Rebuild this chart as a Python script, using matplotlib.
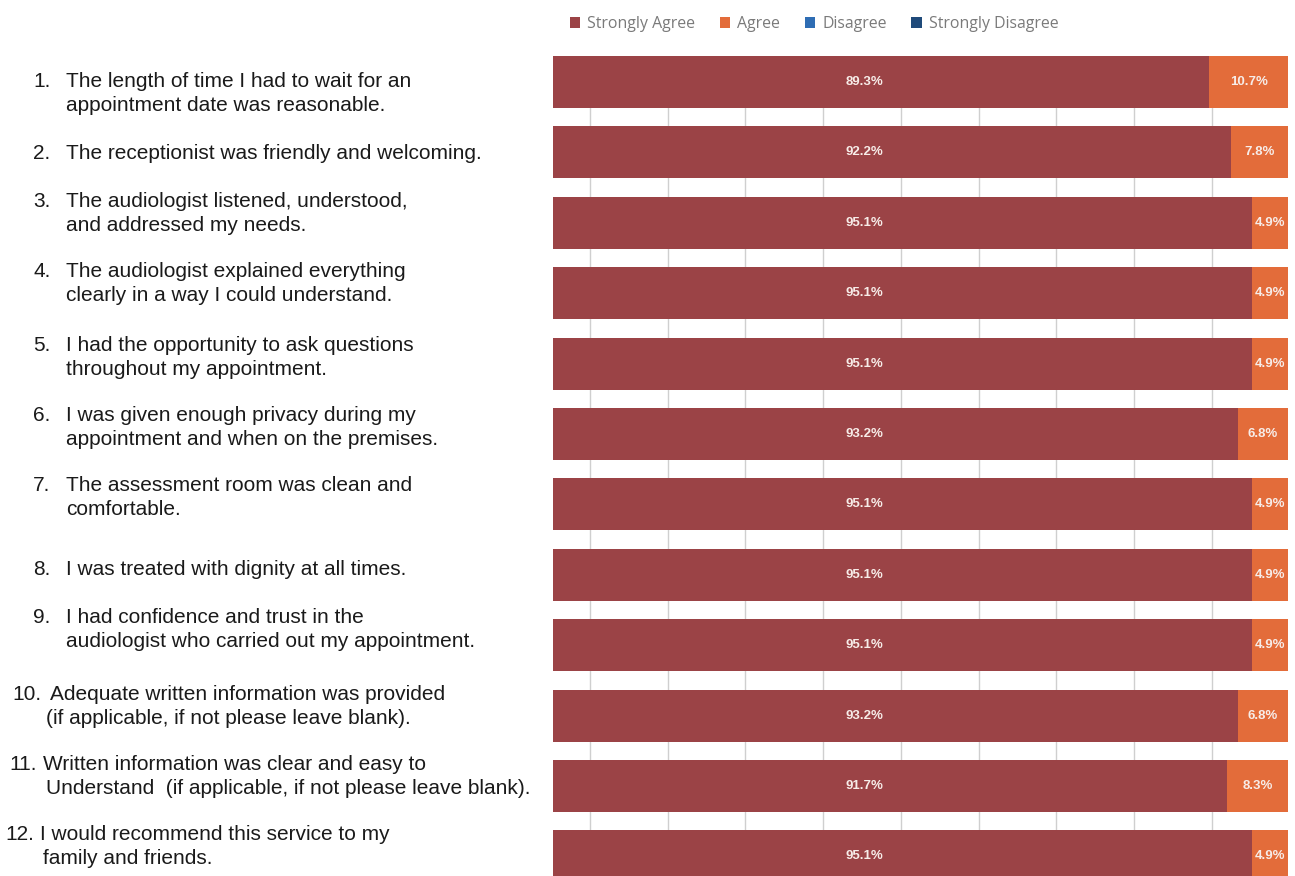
import matplotlib
matplotlib.use("Agg")
import matplotlib.pyplot as plt
import numpy as np
from matplotlib.patches import Patch
from matplotlib.transforms import blended_transform_factory, offset_copy

# survey statements (left column)
questions = [
    "The length of time I had to wait for an\nappointment date was reasonable.",
    "The receptionist was friendly and welcoming.",
    "The audiologist listened, understood,\nand addressed my needs.",
    "The audiologist explained everything\nclearly in a way I could understand.",
    "I had the opportunity to ask questions\nthroughout my appointment.",
    "I was given enough privacy during my\nappointment and when on the premises.",
    "The assessment room was clean and\ncomfortable.",
    "I was treated with dignity at all times.",
    "I had confidence and trust in the\naudiologist who carried out my appointment.",
    "Adequate written information was provided\n(if applicable, if not please leave blank).",
    "Written information was clear and easy to\nUnderstand  (if applicable, if not please leave blank).",
    "I would recommend this service to my\nfamily and friends.",
]

series_names = ["Strongly Agree", "Agree", "Disagree", "Strongly Disagree"]
strongly_agree = [89.3, 92.2, 95.1, 95.1, 95.1, 93.2, 95.1, 95.1, 95.1, 93.2, 91.7, 95.1]
agree = [10.7, 7.8, 4.9, 4.9, 4.9, 6.8, 4.9, 4.9, 4.9, 6.8, 8.3, 4.9]
disagree = [0] * 12
strongly_disagree = [0] * 12

colors = ["#9b4346", "#e36c3a", "#2e6db4", "#1f4a7a"]

# layout of the left text column (pixels)
num_x = [33] * 9 + [12, 9, 5]
text_x = [66] * 9 + [50, 43, 40]
cont_x = [66] * 9 + [46, 46, 43]
first_dy = [5, 7, -16, -16, -13, -13, -13, 0, -22, -16, -16, -16]
line_gap = 24

W, H = 1295, 876
fig = plt.figure(figsize=(W / 100, H / 100), dpi=100)
ax = fig.add_axes([553 / W, 0, 735 / W, 820 / H])

n = len(questions)
y = np.arange(n)
bar_h = 0.739

left = np.zeros(n)
for vals, name, c in zip([strongly_agree, agree, disagree, strongly_disagree],
                         series_names, colors):
    ax.barh(y, vals, left=left, height=bar_h, color=c, label=name, zorder=2)
    left = left + np.array(vals)

ax.set_xlim(0, 100)
ax.set_ylim(11.278, -0.369)

# faint vertical grid, only visible between bars
for gx in np.linspace(5.05, 89.6, 9):
    ax.axvline(gx, color="#cfcfcf", lw=1, zorder=1)

ax.set_xticks([])
ax.set_yticks([])
for s in ax.spines.values():
    s.set_visible(False)

# value labels
SA_LABEL_X = 42.4
lab_kw = dict(ha="center", va="center", color="#f7ece8", fontsize=9.5,
              family="Liberation Sans", weight="bold", zorder=3)
for i in range(n):
    ax.text(SA_LABEL_X, i, f"{strongly_agree[i]:.1f}%", **lab_kw)
    ax.text(strongly_agree[i] + agree[i] / 2, i, f"{agree[i]:.1f}%", **lab_kw)

# question text on the left
trans = blended_transform_factory(fig.transFigure, ax.transData)
for i, q in enumerate(questions):
    lines = q.split("\n")
    for k, line in enumerate(lines):
        dy = first_dy[i] + k * line_gap
        tr = offset_copy(trans, fig=fig, y=-dy, units="dots")
        x0 = text_x[i] if k == 0 else cont_x[i]
        fig.text(x0 / W, i, line, transform=tr, va="baseline", ha="left",
                 fontsize=15, color="#1a1a1a", family="Liberation Sans")
        if k == 0:
            fig.text(num_x[i] / W, i, f"{i + 1}.", transform=tr, va="baseline",
                     ha="left", fontsize=15, color="#1a1a1a", family="Liberation Sans")

handles = [Patch(facecolor=c, edgecolor="none") for c in colors]
fig.legend(handles, series_names, loc="center left", bbox_to_anchor=(570 / W, 1 - 24 / H),
           ncol=4, frameon=False, handlelength=0.65, handleheight=0.65,
           handletextpad=0.45, columnspacing=1.55, borderpad=0, borderaxespad=0,
           prop={"family": "Open Sans", "size": 11.4}, labelcolor="#7a7a7a")

fig.savefig("out.png", dpi=100)
